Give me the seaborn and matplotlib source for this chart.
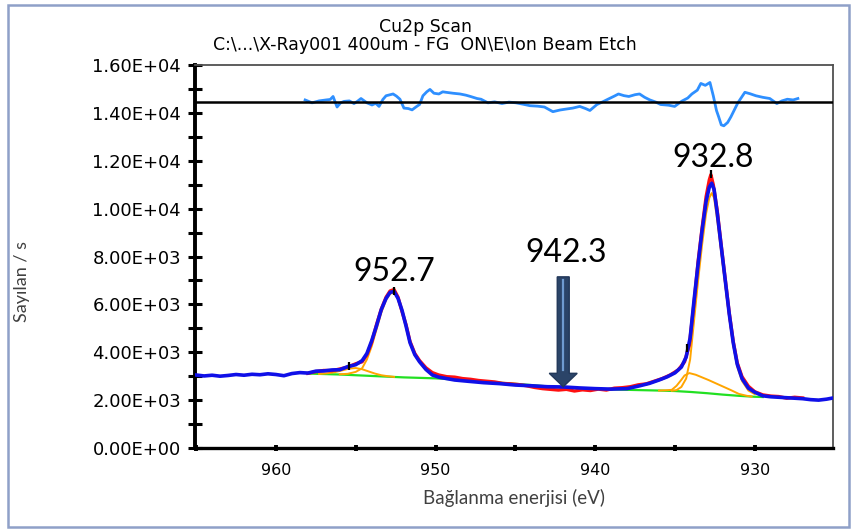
import numpy as np
import pandas as pd
import matplotlib
matplotlib.use("Agg")
import matplotlib.pyplot as plt
from matplotlib.ticker import MultipleLocator, FuncFormatter
from matplotlib.patches import FancyArrow, Rectangle
import seaborn as sns

# ---------------- data ----------------
blue_E = [965.0, 964.5, 964.0, 963.5, 963.0, 962.5, 962.0, 961.5, 961.0, 960.5, 960.0, 959.5, 959.0,
          958.5, 958.0, 957.5, 957.0, 956.5, 956.0, 955.5, 955.0, 954.6, 954.3, 954.0, 953.7, 953.4,
          953.1, 952.85, 952.6, 952.35, 952.1, 951.85, 951.6, 951.3, 951.0, 950.6, 950.2, 949.8, 949.3,
          948.8, 948.0, 947.0, 946.0, 945.0, 944.0, 943.0, 942.0, 941.0, 940.0, 939.0, 938.0, 937.2,
          936.6, 936.0, 935.5, 935.0, 934.6, 934.3, 934.05, 933.8, 933.55, 933.3, 933.05, 932.85, 932.7,
          932.55, 932.35, 932.1, 931.85, 931.6, 931.35, 931.1, 930.8, 930.4, 930.0, 929.5, 929.0, 928.5,
          928.0, 927.5, 927.0, 926.5, 926.0, 925.5, 925.1]
blue_I = [3050, 3010, 3040, 3000, 3030, 3070, 3040, 3080, 3060, 3100, 3070, 3020, 3110,
          3150, 3130, 3210, 3220, 3260, 3270, 3400, 3480, 3650, 3950, 4480, 5100, 5780,
          6250, 6500, 6540, 6250, 5750, 5100, 4400, 3900, 3600, 3280, 3050, 2960, 2900,
          2840, 2790, 2730, 2690, 2630, 2600, 2560, 2550, 2510, 2480, 2460, 2480, 2600,
          2700, 2840, 2970, 3140, 3380, 3800, 4600, 6200, 7700, 9100, 10300, 10900, 11060,
          10800, 9800, 8400, 7000, 5600, 4400, 3500, 2900, 2500, 2330, 2180, 2140, 2120,
          2100, 2080, 2060, 2020, 2000, 2040, 2090]

red_E = [958.0, 957.5, 957.0, 956.5, 956.0, 955.5, 955.0, 954.6, 954.3, 954.0, 953.7, 953.4, 953.1,
         952.85, 952.6, 952.35, 952.1, 951.85, 951.6, 951.3, 951.0, 950.6, 950.2, 949.8, 949.3, 948.8,
         948.3, 947.8, 947.3, 946.8, 946.3, 945.8, 945.3, 944.8, 944.3, 943.8, 943.3, 942.8, 942.3,
         941.8, 941.3, 940.8, 940.3, 939.8, 939.3, 938.8, 938.3, 937.8, 937.3, 936.8, 936.3, 935.8,
         935.3, 934.8, 934.4, 934.1, 933.8, 933.55, 933.3, 933.05, 932.85, 932.75, 932.6, 932.35,
         932.1, 931.85, 931.6, 931.35, 931.1, 930.8, 930.4, 930.0, 929.5, 929.0, 928.5, 928.0, 927.5, 927.0]
red_I = [3120, 3190, 3240, 3230, 3300, 3380, 3520, 3600, 3900, 4420, 5150, 5800, 6300,
         6560, 6620, 6300, 5700, 5150, 4450, 3950, 3650, 3350, 3150, 3050, 2980, 2960,
         2900, 2870, 2820, 2790, 2760, 2700, 2680, 2650, 2600, 2530, 2480, 2450, 2420,
         2450, 2380, 2430, 2400, 2460, 2420, 2500, 2520, 2560, 2640, 2680, 2790, 2900,
         3050, 3260, 3600, 4300, 6100, 7800, 9200, 10500, 11200, 11420, 11000, 9900,
         8450, 7050, 5650, 4450, 3560, 2980, 2580, 2350, 2220, 2170, 2150, 2080, 2120, 2090]

green_E = [958.0, 957.0, 956.0, 955.0, 954.0, 953.0, 952.0, 951.0, 950.0, 949.0, 948.0, 946.0,
           944.0, 942.0, 940.0, 938.0, 936.0, 935.0, 934.0, 933.0, 932.0, 931.0, 930.0, 929.5]
green_I = [3110, 3090, 3070, 3040, 3010, 2980, 2950, 2930, 2910, 2870, 2820, 2730,
           2630, 2520, 2470, 2430, 2400, 2380, 2340, 2290, 2230, 2180, 2140, 2130]

satA_E = [957.3, 956.8, 956.3, 955.8, 955.4, 955.0, 954.6, 954.2, 953.8, 953.4, 953.0, 952.6]
satA_I = [3090, 3120, 3170, 3250, 3320, 3340, 3290, 3200, 3110, 3040, 3000, 2970]

mainA_E = [956.0, 955.5, 955.0, 954.6, 954.3, 954.0, 953.7, 953.4, 953.1, 952.85, 952.6, 952.35,
           952.1, 951.85, 951.6, 951.3, 951.0, 950.6, 950.2, 949.8, 949.3, 948.8]
mainA_I = [3080, 3100, 3180, 3330, 3700, 4250, 4950, 5650, 6180, 6440, 6500, 6220,
           5720, 5080, 4380, 3880, 3580, 3260, 3040, 2950, 2890, 2850]

satB_E = [936.0, 935.6, 935.2, 934.9, 934.6, 934.4, 934.1, 933.7, 933.3, 932.9, 932.5, 932.0,
          931.5, 931.0, 930.5, 930.2]
satB_I = [2400, 2410, 2430, 2600, 2850, 3030, 3130, 3060, 2950, 2840, 2720, 2570,
          2420, 2260, 2180, 2150]

mainB_E = [935.2, 934.9, 934.6, 934.3, 934.05, 933.8, 933.55, 933.3, 933.05, 932.85, 932.7, 932.55,
           932.35, 932.1, 931.85, 931.6, 931.35, 931.1, 930.8, 930.4, 930.0]
mainB_I = [2390, 2420, 2550, 2900, 3700, 5350, 7000, 8500, 9800, 10450, 10650, 10450,
           9500, 8150, 6800, 5450, 4300, 3400, 2800, 2400, 2250]

resid_E = [958.17, 957.95, 957.74, 957.3, 956.86, 956.6, 956.42, 956.17, 955.95, 955.73, 955.4,
           955.11, 954.9, 954.67, 954.3, 953.98, 953.75, 953.54, 953.3, 953.10,
           952.66, 952.45, 952.23, 951.98, 951.7, 951.47, 951.2, 951.00, 950.79, 950.55, 950.35,
           950.1, 949.79, 949.55, 949.35, 948.9, 948.47, 948.1, 947.81,
           947.4, 947.15, 946.72, 946.3, 945.84, 945.4, 944.96, 944.5, 944.09, 943.6, 943.18, 942.65,
           942.2, 941.86, 941.4, 940.97, 940.6, 940.33, 939.89,
           939.5, 939.20, 938.8, 938.54, 938.2, 937.89, 937.5, 937.22, 936.9, 936.57, 936.2, 935.90,
           935.4, 935.02, 934.57, 934.2, 933.94, 933.6, 933.38, 933.1, 932.81,
           932.60, 932.4, 932.26, 932.1, 931.94, 931.7, 931.50, 931.06, 930.62, 930.3, 929.93,
           929.5, 929.06, 928.62, 928.3, 927.96, 927.6, 927.30]
resid_I = [14540, 14480, 14420, 14500, 14540, 14560, 14685, 14245, 14420, 14480, 14500,
           14390, 14480, 14600, 14420, 14330, 14400, 14270, 14560, 14715,
           14790, 14700, 14570, 14200, 14180, 14125, 14260, 14350, 14715, 14880, 14980,
           14820, 14790, 14880, 14860, 14820, 14790, 14740, 14685,
           14600, 14570, 14420, 14460, 14390, 14450, 14420, 14360, 14300, 14280, 14245, 14050,
           14120, 14155, 14200, 14270, 14180, 14100, 14350,
           14470, 14570, 14700, 14790, 14720, 14685, 14760, 14790, 14650, 14540, 14450, 14350,
           14320, 14270, 14490, 14620, 14790, 14950, 15230, 15150, 15270,
           14715, 14100, 13830, 13500, 13460, 13600, 13830, 14420, 14860, 14800, 14715,
           14650, 14600, 14390, 14500, 14570, 14540, 14600]
resid_zero = 14450

marker_E = [932.75, 952.58, 934.27, 955.4]
marker_I = [11440, 6570, 4180, 3420]

peak_labels = ["932.8", "952.7", "942.3"]
label_E = [932.6, 952.6, 941.8]
label_I = [12100, 7350, 8150]
arrow_E = 942.0
arrow_top = 7150
arrow_tip = 2560

y_ticks = [0, 2000, 4000, 6000, 8000, 10000, 12000, 14000, 16000]
x_ticks = [960, 950, 940, 930]

# ---------------- figure ----------------
W, H = 855, 532
fig = plt.figure(figsize=(W / 100, H / 100), dpi=100)
fig.patch.set_facecolor("white")
ax = fig.add_axes([195 / W, 1 - 448 / H, (833 - 195) / W, (448 - 65) / H])
ax.set_facecolor("white")

def line(xs, ys, color, lw, z):
    sns.lineplot(x=xs, y=ys, ax=ax, color=color, linewidth=lw, sort=False,
                 estimator=None, zorder=z, legend=False)

line(green_E, green_I, "#22E022", 1.6, 2)
line(satA_E, satA_I, "#FFA500", 1.4, 3)
line(mainA_E, mainA_I, "#FFA500", 1.4, 3)
line(satB_E, satB_I, "#FFA500", 1.4, 3)
line(mainB_E, mainB_I, "#FFA500", 1.4, 3)
line(red_E, red_I, "#FF1010", 2.4, 4)
line(blue_E, blue_I, "#1010E8", 2.6, 5)
line(resid_E, resid_I, "#2E8FFF", 2.0, 5)
ax.axhline(resid_zero, color="black", lw=1.8, zorder=6)

sns.scatterplot(x=marker_E, y=marker_I, ax=ax, marker="|", color="black", s=40,
                linewidth=1.6, zorder=7, legend=False)

# arrow
arr = FancyArrow(arrow_E, arrow_top, 0, arrow_tip - arrow_top, width=0.75, head_width=1.75,
                 head_length=560, length_includes_head=True, facecolor="#2B4468",
                 edgecolor="#22385A", lw=1.0, zorder=8)
ax.add_patch(arr)
ax.plot([arrow_E, arrow_E], [arrow_top - 150, arrow_tip + 700], color="#6F9BD0", lw=1.6, zorder=9)

for t, xe, yi in zip(peak_labels, label_E, label_I):
    ax.text(xe, yi, t, ha="center", va="center", fontsize=23, family="Lato", color="black",
            zorder=10)

ax.set_xlim(965.07, 925.1)
ax.set_ylim(0, 16000)
ax.set_xticks(x_ticks)
ax.xaxis.set_minor_locator(MultipleLocator(5))
ax.set_yticks(y_ticks)
ax.yaxis.set_minor_locator(MultipleLocator(1000))
ax.yaxis.set_major_formatter(FuncFormatter(lambda v, p: f"{v:.2E}"))
ax.xaxis.set_major_formatter(FuncFormatter(lambda v, p: f"{v:.0f}"))

ax.tick_params(axis="y", which="both", direction="inout", length=10, width=2.2, pad=5,
               labelsize=13, colors="black")
ax.tick_params(axis="x", which="both", direction="inout", length=5, width=2.8, pad=8,
               labelsize=11.5, colors="black")
for lab in ax.get_yticklabels() + ax.get_xticklabels():
    lab.set_family("DejaVu Sans")

ax.spines["left"].set_linewidth(2.8)
ax.spines["left"].set_color("black")
ax.spines["bottom"].set_linewidth(2.4)
ax.spines["bottom"].set_color("black")
for s in ["top", "right"]:
    ax.spines[s].set_linewidth(1.3)
    ax.spines[s].set_color("#505050")

ax.set_xlabel("Bağlanma enerjisi (eV)", family="Lato", fontsize=13.5, color="#404040", labelpad=8)
ax.set_ylabel("Sayılan / s", family="Lato", fontsize=13, color="#404040", labelpad=10)
ax.yaxis.set_label_coords(-(195 - 30) / (833 - 195), (448 - 282) / (448 - 65))

fig.text(425 / W, 1 - 27 / H, "Cu2p Scan", ha="center", va="center", fontsize=12.5,
         family="DejaVu Sans")
fig.text(425 / W, 1 - 45 / H, "C:\\...\\X-Ray001 400um - FG  ON\\E\\Ion Beam Etch", ha="center",
         va="center", fontsize=12.5, family="DejaVu Sans")

fig.patches.append(Rectangle((8 / W, 1 - 527 / H), (849 - 8) / W, (527 - 5) / H,
                             transform=fig.transFigure, fill=False, edgecolor="#8FA0C8",
                             lw=1.8, zorder=0))

fig.savefig("out.png", dpi=100, facecolor="white")
